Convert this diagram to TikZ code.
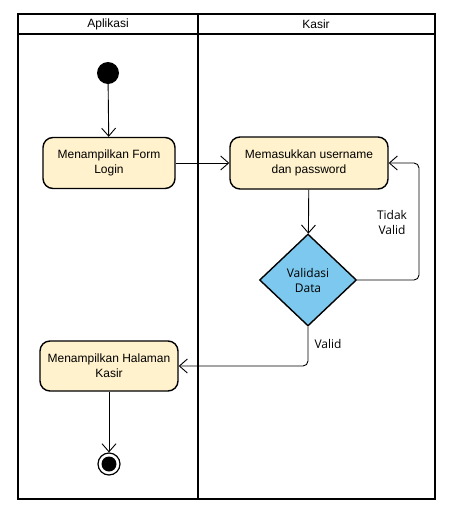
\documentclass[tikz,border=0pt]{standalone}
\usepackage{fontspec}
\setmainfont{Liberation Sans}
\newfontfamily\lblfont{Open Sans}
\usetikzlibrary{shapes.geometric,arrows.meta}
\definecolor{actfill}{HTML}{FFF2CC}
\definecolor{decfill}{HTML}{7CC8EE}
\tikzset{
  act/.style={draw=black, line width=1.4pt, fill=actfill, rounded corners=10pt, align=center, font=\fontsize{12}{15}\selectfont, inner sep=0pt},
  dec/.style={draw=black, line width=1.4pt, fill=decfill, diamond, align=center, font=\lblfont\fontsize{12}{15}\selectfont, minimum width=97pt, minimum height=92pt, inner sep=0pt},
  flow/.style={draw=black, line width=0.9pt, -{Straight Barb[length=8pt,width=14pt,line width=0.9pt]}, rounded corners=5pt},
  lbl/.style={font=\lblfont\fontsize{12}{15}\selectfont, align=center},
  frame/.style={draw=black, line width=2pt}
}
\begin{document}
\begin{tikzpicture}[x=1pt,y=-1pt]
\useasboundingbox (0,0) rectangle (449,512);
% swimlanes
\draw[frame] (18,14) rectangle (435,499);
\draw[frame] (18,34) -- (435,34);
\draw[frame] (198,14) -- (198,499);
\node[font=\fontsize{12}{15}\selectfont] (h1) at (108,24) {Aplikasi};
\node[font=\fontsize{12}{15}\selectfont] (h2) at (316,24) {Kasir};
% nodes
\node[circle, fill=black, minimum size=22pt, inner sep=0pt] (start) at (108,73) {};
\node[act, minimum width=132pt, minimum height=51pt] (form) at (109,163) {Menampilkan Form\\Login};
\node[act, minimum width=158pt, minimum height=52pt] (input) at (309,163) {Memasukkan username\\dan password};
\node[dec] (valid) at (308,280) {Validasi\\Data};
\node[act, minimum width=138pt, minimum height=50pt] (home) at (109,366) {Menampilkan Halaman\\Kasir};
\node[circle, draw=black, line width=1.2pt, fill=white, minimum size=22pt, inner sep=0pt] (end) at (109,464) {};
\node[circle, fill=black, minimum size=15pt, inner sep=0pt] (endin) at (109,464) {};
% connectors
\draw[flow] (start) -- (form);
\draw[flow] (form) -- (input);
\draw[flow] (input) -- (valid);
\draw[flow] (valid.east) -| (419,220) |- (input.east);
\draw[flow] (valid.south) |- (home.east);
\draw[flow] (home) -- (end);
% labels
\node[lbl] (tv) at (392,222) {Tidak\\Valid};
\node[lbl] (vl) at (328,344) {Valid};
\end{tikzpicture}
\end{document}
